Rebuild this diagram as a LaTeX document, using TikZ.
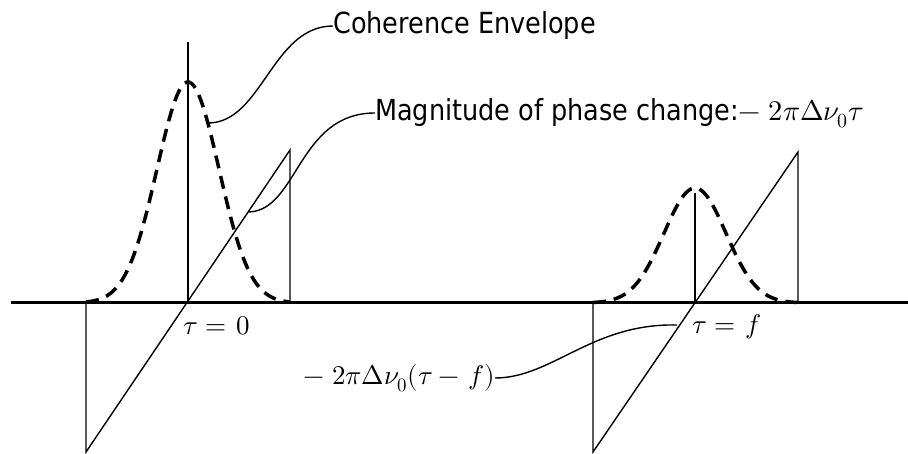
\documentclass[tikz,border=0pt]{standalone}
\usepackage{fontspec}
\usepackage{unicode-math}
\newfontfamily\labelfont[FakeStretch=0.88]{DejaVu Sans}
\usepackage{tikz}

\begin{document}
\begin{tikzpicture}[x=1pt, y=-1pt,
    axisline/.style={line width=3pt},
    sawline/.style={line width=1.4pt, line join=miter},
    envelope/.style={line width=3.5pt, dash pattern=on 13pt off 8pt},
    leader/.style={line width=1.4pt},
    lbl/.style={inner sep=0pt, font=\labelfont\fontsize{29}{34}\selectfont},
    mathlbl/.style={inner sep=0pt, font=\fontsize{27}{32}\selectfont}
]
    \useasboundingbox (0,0) rectangle (908,454);

    % coherence envelopes
    \foreach \c/\h in {188/221, 695/115}
        \draw[envelope] plot[domain=-102:102, samples=80, smooth] ({\c+\x}, {303-\h*exp(0-(\x)*(\x)/1922)});

    % time axis
    \coordinate (axisL) at (11,303);
    \coordinate (axisR) at (908,303);
    \draw[axisline] (axisL) -- (axisR);

    % markers at tau = 0 and tau = f
    \draw[sawline] (188,42) -- (188,303);
    \draw[sawline] (695,193) -- (695,303);

    % phase ramps
    \draw[sawline] (86,303) -- (86,452) -- (290,150) -- (290,303);
    \draw[sawline] (593,303) -- (593,452) -- (798,152) -- (798,303);

    \node (cohlabel) [lbl, anchor=west] at (333,26) {Coherence Envelope};
    \node (maglabel) [lbl, anchor=west] at (375,113) {Magnitude of phase change:{\fontsize{28.5}{32}\selectfont$-\;2\pi\Delta\nu_0\tau$}};
    \node (zerolabel) [mathlbl, anchor=west] at (183,326) {$\tau =\mkern2mu 0$};
    \node (flabel) [mathlbl, anchor=west] at (692,327) {$\tau =\mkern2mu f$};
    \node (shiftlabel) [mathlbl, anchor=east] at (495,378) {$-\;2\pi\Delta\nu_0(\tau -\mkern2mu f)$};

    \coordinate (cohtip) at (208,123);
    \coordinate (magtip) at (249,212);
    \coordinate (shifttip) at (677,325);

    \draw[leader] (cohtip) .. controls (262,123) and (272,26) .. (cohlabel.west);
    \draw[leader] (magtip) .. controls (298,210) and (298,113) .. (maglabel.west);
    \draw[leader] (shiftlabel.east) .. controls (552,378) and (592,323) .. (shifttip);
\end{tikzpicture}
\end{document}
